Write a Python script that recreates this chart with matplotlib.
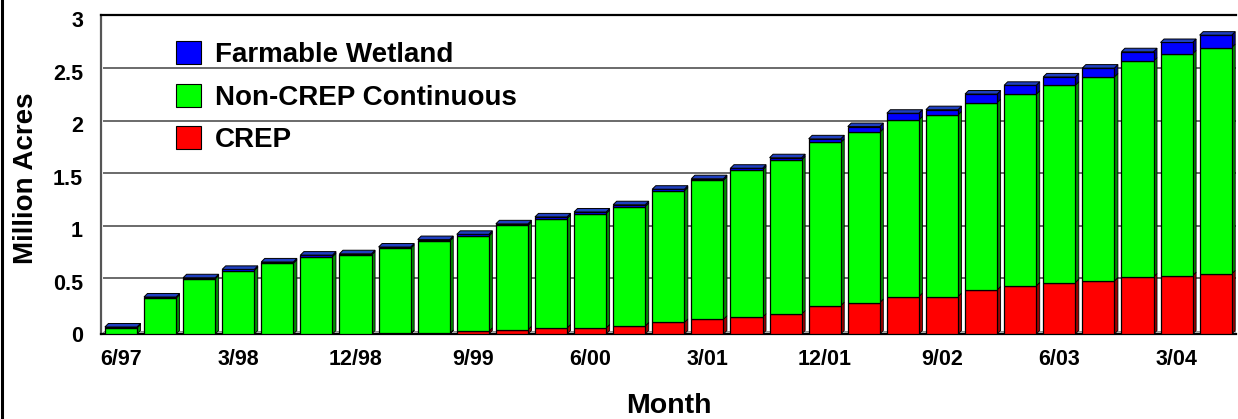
import matplotlib
matplotlib.use("Agg")
import matplotlib.pyplot as plt
from matplotlib.patches import Polygon, Patch
from matplotlib.lines import Line2D
import numpy as np

plt.rcParams['font.family'] = ['Liberation Sans', 'DejaVu Sans']
plt.rcParams['font.weight'] = 'bold'

# ---- data (million acres) ----
months = ["6/97", "9/97", "12/97", "3/98", "6/98", "9/98", "12/98", "3/99", "6/99",
          "9/99", "12/99", "3/00", "6/00", "9/00", "12/00", "3/01", "6/01", "9/01",
          "12/01", "3/02", "6/02", "9/02", "12/02", "3/03", "6/03", "9/03", "12/03",
          "3/04", "6/04"]
crep = [0.0, 0.0, 0.0, 0.0, 0.0, 0.0, 0.0, 0.005, 0.005, 0.025, 0.04, 0.057, 0.057,
        0.076, 0.11, 0.14, 0.16, 0.19, 0.27, 0.30, 0.357, 0.357, 0.42, 0.458, 0.49,
        0.505, 0.544, 0.556, 0.573]
crep_plus_noncrep = [0.057, 0.341, 0.525, 0.604, 0.674, 0.737, 0.752, 0.816, 0.886,
                     0.933, 1.034, 1.10, 1.148, 1.215, 1.364, 1.465, 1.563, 1.66,
                     1.825, 1.923, 2.04, 2.088, 2.205, 2.284, 2.37, 2.45, 2.60, 2.67,
                     2.73]
total = [0.067, 0.353, 0.536, 0.616, 0.687, 0.752, 0.765, 0.829, 0.90, 0.95, 1.05,
         1.116, 1.163, 1.232, 1.38, 1.48, 1.58, 1.68, 1.86, 1.977, 2.104, 2.138,
         2.287, 2.37, 2.45, 2.534, 2.69, 2.778, 2.848]
noncrep = [b - a for a, b in zip(crep, crep_plus_noncrep)]
wetland = [t - b for b, t in zip(crep_plus_noncrep, total)]
label_every = 3
yticks = [0, 0.5, 1, 1.5, 2, 2.5, 3]
ytick_labels = ["0", "0.5", "1", "1.5", "2", "2.5", "3"]

series = [("CREP", crep, "#FF0000", "#A00000"),
          ("Non-CREP Continuous", noncrep, "#00FF00", "#009000"),
          ("Farmable Wetland", wetland, "#0000FF", "#000090")]

W, H = 1238, 419
fig = plt.figure(figsize=(W / 100, H / 100), dpi=100)
ax = fig.add_axes([101 / W, (H - 334) / H, (1236 - 101) / W, (334 - 15) / H])

x = np.arange(len(months))
xlim = (-0.51, 28.52)
ylim = (0, 3.04)
ax.set_xlim(*xlim)
ax.set_ylim(*ylim)

# depth of 3D effect in data units (about 3.5 px)
dx = 3.5 / 39.1
dy = 3.5 / 105.3
width = 0.82

# floor strip
ax.add_patch(Polygon([(xlim[0], 0), (xlim[1], 0), (xlim[1], dy), (xlim[0] + dx, dy)],
                     closed=True, facecolor="#C0C0C0", edgecolor="#808080",
                     lw=0.6, zorder=1))

# back-wall gridlines
for t in yticks[1:-1]:
    ax.plot([xlim[0] + dx, xlim[1]], [t + dy, t + dy], color="#6a6a6a", lw=1.4, zorder=1.5)

bottom = np.zeros(len(x))
for name, vals, col, dark in series:
    vals = np.array(vals)
    ax.bar(x, vals, width=width, bottom=bottom, color=col, edgecolor="black",
           linewidth=0.9, zorder=3)
    for xi, b, v in zip(x, bottom, vals):
        if v <= 0:
            continue
        xr = xi + width / 2
        ax.add_patch(Polygon([(xr, b), (xr + dx, b + dy), (xr + dx, b + v + dy), (xr, b + v)],
                             closed=True, facecolor=dark, edgecolor="black", lw=0.6, zorder=2.9))
    bottom = bottom + vals

# top faces
for xi, t in zip(x, bottom):
    xl, xr = xi - width / 2, xi + width / 2
    ax.add_patch(Polygon([(xl, t), (xl + dx, t + dy), (xr + dx, t + dy), (xr, t)],
                         closed=True, facecolor="#1F3FC0", edgecolor="black", lw=0.7, zorder=3.1))

# axes styling
ax.spines["right"].set_visible(False)
ax.spines["top"].set_linewidth(1.6)
ax.spines["bottom"].set_linewidth(1.6)
ax.spines["left"].set_color("#555555")
ax.spines["left"].set_linewidth(1.6)

ax.set_yticks(yticks)
ax.set_yticklabels(ytick_labels)
ax.set_xticks(x[::label_every])
ax.set_xticklabels(months[::label_every])
ax.tick_params(axis="both", length=0, labelsize=15.5)
ax.tick_params(axis="x", pad=11)
ax.tick_params(axis="y", pad=13)
for lab in ax.get_xticklabels() + ax.get_yticklabels():
    lab.set_fontweight("bold")

ax.set_ylabel("Million Acres", fontsize=20, fontweight="bold")
ax.set_xlabel("Month", fontsize=20.5, fontweight="bold")
ax.yaxis.set_label_coords(-0.055, 0.489)
ax.xaxis.set_label_coords(0.5, -0.186)

handles = [Patch(facecolor=c, edgecolor="black", lw=0.8, label=n)
           for n, _, c, _ in reversed(series)]
leg = ax.legend(handles=handles, loc="upper left", bbox_to_anchor=(0.066, 0.918),
                frameon=False, handlelength=0.9, handleheight=0.9,
                handletextpad=0.5, labelspacing=0.55, borderpad=0, borderaxespad=0,
                prop={"weight": "bold", "size": 20})
leg.set_zorder(5)

# left border of the figure
fig.add_artist(Line2D([1.5 / W, 1.5 / W], [0, 1], color="black", lw=2.2,
                      transform=fig.transFigure))

fig.savefig("out.png", dpi=100)
